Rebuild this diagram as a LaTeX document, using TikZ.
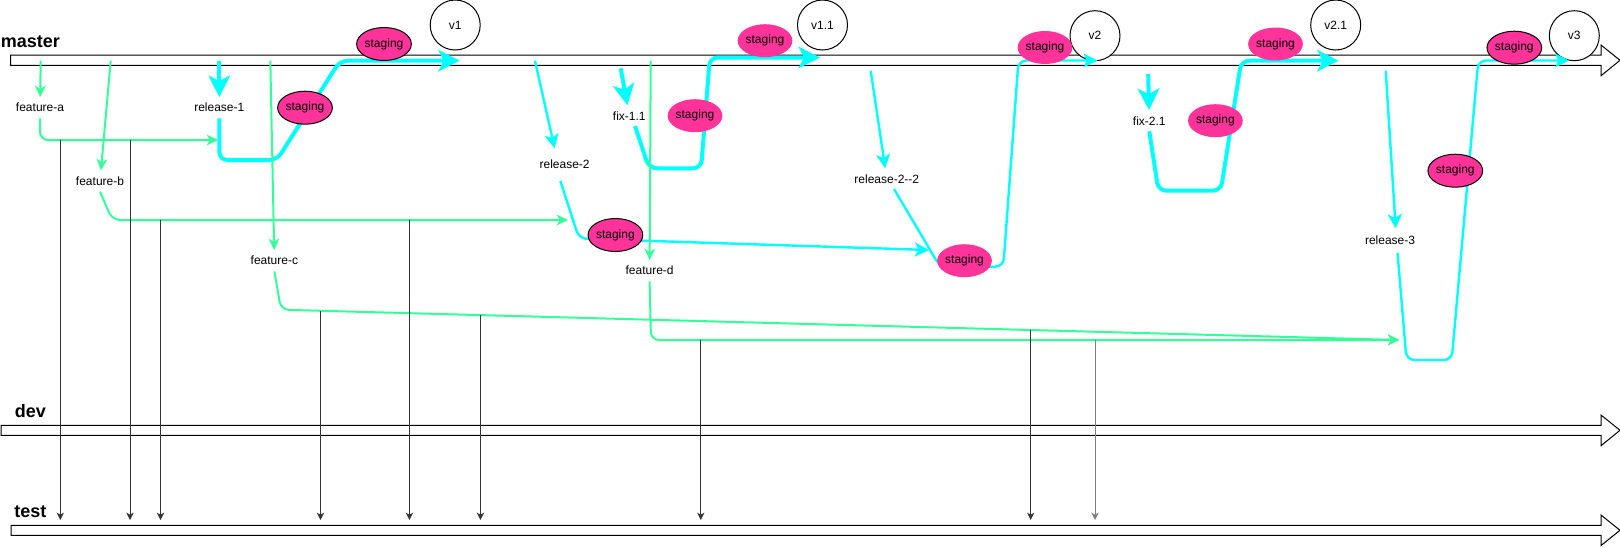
\documentclass[tikz,border=0pt]{standalone}
\usepackage{fontspec}
\setmainfont{Liberation Sans}
\usetikzlibrary{arrows.meta,shapes.geometric}

\begin{document}
\begin{tikzpicture}[x=0.75pt,y=0.75pt,yscale=-1,xscale=1,
  lbl/.style={font=\fontsize{9}{10}\selectfont, inner xsep=1.5pt, inner ysep=4.5pt},
  brname/.style={font=\bfseries\fontsize{13.5}{15}\selectfont, anchor=base west, inner sep=0pt},
  bar/.style={draw=black, fill=white, line width=0.75pt},
  stg/.style={ellipse, fill={rgb,255:red,255;green,51;blue,153}, draw=black, line width=0.75pt, minimum width=37.5pt, minimum height=24.75pt, inner sep=0pt, font=\fontsize{9}{10}\selectfont},
  stgn/.style={stg, draw=none},
  ver/.style={circle, draw=black, fill=white, line width=0.75pt, minimum size=37.5pt, inner sep=0pt, font=\fontsize{9}{10}\selectfont},
  feat/.style={draw={rgb,255:red,51;green,255;blue,153}, line width=1.5pt, rounded corners=6pt, -{Stealth[length=8.5pt,width=8pt,inset=2.5pt]}},
  relthick/.style={draw={rgb,255:red,0;green,255;blue,255}, line width=3pt, rounded corners=6pt, -{Stealth[length=16pt,width=16pt,inset=4pt]}},
  relthin/.style={draw={rgb,255:red,0;green,255;blue,255}, line width=1.8pt, rounded corners=6pt, -{Stealth[length=10.5pt,width=10.5pt,inset=2.5pt]}},
  merge/.style={draw={rgb,255:red,51;green,51;blue,51}, line width=0.75pt, -{Stealth[length=5.5pt,width=5.5pt,inset=1.5pt]}},
  mergegray/.style={merge, draw={rgb,255:red,128;green,128;blue,128}}
]
\useasboundingbox (0,0) rectangle (1620,547);

%Shape: Branch Arrows
\draw[bar] (10.7,55) -- (1601,55) -- (1601,45) -- (1620,60.3) -- (1601,75.7) -- (1601,65.3) -- (10.7,65.3) -- cycle;
\draw[bar] (1,425.3) -- (1601,425.3) -- (1601,415) -- (1620,430.3) -- (1601,445.7) -- (1601,435.3) -- (1,435.3) -- cycle;
\draw[bar] (11,525.3) -- (1601,525.3) -- (1601,515) -- (1620,530.3) -- (1601,545.5) -- (1601,535.3) -- (11,535.3) -- cycle;

% Text Node
\node[brname] (master) at (0.5,47.7) {master};
\node[brname] (dev) at (14.5,417) {dev};
\node[brname] (test) at (14,517) {test};

%Shape: Circle
\node[ver] (v1) at (455.2,25) {v1};
\node[ver] (v11) at (822.5,25) {v1.1};
\node[ver] (v2) at (1095,35.7) {v2};
\node[ver] (v21) at (1335.7,25) {v2.1};
\node[ver] (v3) at (1574.3,35.7) {v3};

% Text Node
\node[lbl] (fa) at (40,107.7) {feature-a};
\node[lbl] (r1) at (219.3,107.7) {release-1};
\node[lbl] (fb) at (100,181) {feature-b};
\node[lbl] (fc) at (274.4,260.7) {feature-c};
\node[lbl] (r2) at (564.6,164) {release-2};
\node[lbl] (f11) at (629.3,116) {fix-1.1};
\node[lbl] (fd) at (649.6,270.7) {feature-d};
\node[lbl] (r22) at (886.8,179) {release-2-{}-2};
\node[lbl] (f21) at (1149.3,120.7) {fix-2.1};
\node[lbl] (r3) at (1390,240.7) {release-3};

% points on master
\coordinate (m_fa) at (40.7,60.7);
\coordinate (m_fb) at (110.7,60.7);
\coordinate (m_r1) at (219.3,60.7);
\coordinate (m_fc) at (270.3,60.7);
\coordinate (m_r2) at (535,60.7);
\coordinate (m_f11) at (620.7,68.3);
\coordinate (m_fd) at (650.7,60.7);
\coordinate (m_r22) at (870.7,70.7);
\coordinate (m_f21) at (1148.2,74);
\coordinate (m_r3) at (1385.7,70.7);
% bends
\coordinate (r2in) at (554.6,148.3);
\coordinate (r3in) at (1395.7,228.3);
\coordinate (r1a) at (219.3,160);
\coordinate (r1b) at (277,160);
\coordinate (r1c) at (340,60.7);
\coordinate (v1in) at (459.7,60.7);
\coordinate (f11o) at (635,126);
\coordinate (f11a) at (649,168.3);
\coordinate (f11b) at (701.1,168.3);
\coordinate (f11c) at (709.8,57.5);
\coordinate (v11in) at (820,57.5);
\coordinate (r2o) at (560.4,181);
\coordinate (r2a) at (579,238.6);
\coordinate (r22in) at (929,250);
\coordinate (r22o) at (894,189);
\coordinate (r22a) at (940,266.7);
\coordinate (r22b) at (1003.3,266.7);
\coordinate (r22c) at (1018.5,60.5);
\coordinate (v2in) at (1097.5,60.5);
\coordinate (f21a) at (1158.4,190.7);
\coordinate (f21b) at (1220.8,190.7);
\coordinate (f21c) at (1241.3,60.7);
\coordinate (v21in) at (1338.6,60.7);
\coordinate (r3o) at (1397.5,252.7);
\coordinate (r3a) at (1406.5,360);
\coordinate (r3b) at (1451.7,360);
\coordinate (r3c) at (1478.3,60.5);
\coordinate (v3in) at (1569,60.5);

%Straight Lines: releases and fixes
\draw[relthick] (m_r1) -- (r1);
\draw[relthick] (r1.south) -- (r1a) -- (r1b) -- (r1c) -- (v1in);
\draw[relthick] (m_f11) -- (f11);
\draw[relthick] (f11o) -- (f11a) -- (f11b) -- (f11c) -- (v11in);
\draw[relthin] (m_r2) -- (r2in);
\draw[relthin] (r2o) -- (r2a) -- (r22in);
\draw[relthin] (m_r22) -- (r22);
\draw[relthin] (r22o) -- (r22a) -- (r22b) -- (r22c) -- (v2in);
\draw[relthick] (m_f21) -- (f21);
\draw[relthick] (f21.south) -- (f21a) -- (f21b) -- (f21c) -- (v21in);
\draw[relthin] (m_r3) -- (r3in);
\draw[relthin] (r3o) -- (r3a) -- (r3b) -- (r3c) -- (v3in);

%Shape: Ellipse
\node[stg] (s1) at (384,44) {staging};
\node[stg] (s2) at (305,107.7) {staging};
\node[stgn] (s3) at (765,40.7) {staging};
\node[stgn] (s4) at (695,115.7) {staging};
\node[stg] (s5) at (615.4,235) {staging};
\node[stgn] (s6) at (964.5,260.7) {staging};
\node[stgn] (s7) at (1045,47.5) {staging};
\node[stgn] (s8) at (1215.4,120.7) {staging};
\node[stgn] (s9) at (1275.5,44) {staging};
\node[stg] (s10) at (1455.3,170.7) {staging};
\node[stg] (s11) at (1514.3,47.7) {staging};

% green bends
\coordinate (fain) at (218,140);
\coordinate (fbk) at (112.3,220);
\coordinate (fbin) at (568,220);
\coordinate (fck) at (281,309.7);
\coordinate (fdk) at (651,340);
\coordinate (r3g) at (1399.3,340);

%Straight Lines: features
\draw[feat] (m_fa) -- (fa);
\draw[feat] (fa.south) |- (fain);
\draw[feat] (m_fb) -- (fb);
\draw[feat] (fb.south) -- (fbk) -- (fbin);
\draw[feat] (m_fc) -- (fc);
\draw[feat] (fc.south) -- (fck) -- (r3g);
\draw[feat] (m_fd) -- (fd);
\draw[feat] (fd.south) -- (fdk) -- (r3g);

% merge points
\coordinate (tst) at (0,520);
\coordinate (d1) at (60.3,140);
\coordinate (d2) at (130,140);
\coordinate (d3) at (160.5,220);
\coordinate (d4) at (320.5,310.8);
\coordinate (d5) at (409.4,220);
\coordinate (d6) at (480.4,315.1);
\coordinate (d7) at (700.8,340);
\coordinate (d8) at (1030.7,330);
\coordinate (d9) at (1095,340);

%Straight Lines: to test
\draw[merge] (d1) -- (d1 |- tst);
\draw[merge] (d2) -- (d2 |- tst);
\draw[merge] (d3) -- (d3 |- tst);
\draw[merge] (d4) -- (d4 |- tst);
\draw[merge] (d5) -- (d5 |- tst);
\draw[merge] (d6) -- (d6 |- tst);
\draw[merge] (d7) -- (d7 |- tst);
\draw[merge] (d8) -- (d8 |- tst);
\draw[mergegray] (d9) -- (d9 |- tst);

\end{tikzpicture}
\end{document}
